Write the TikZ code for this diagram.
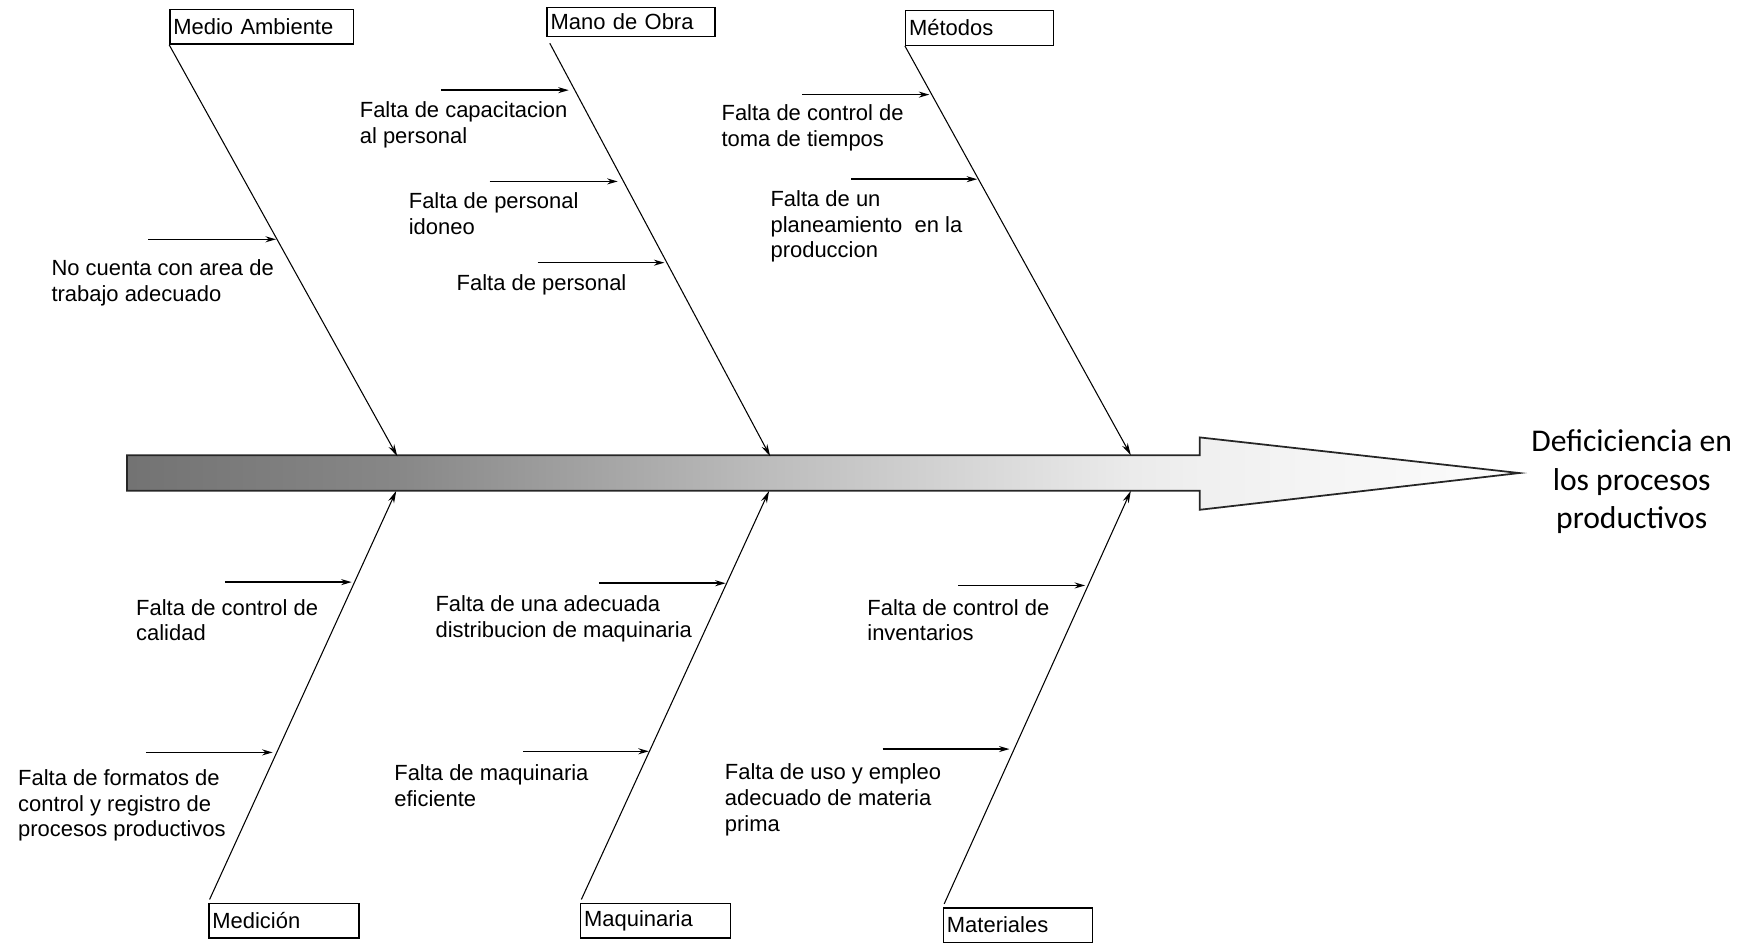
\documentclass[tikz,border=0pt]{standalone}
\usepackage{fontspec}
\setmainfont{Liberation Sans}
\newfontfamily\titlefont{Carlito}
\usetikzlibrary{arrows.meta}
\pgfdeclarehorizontalshading{espina}{100bp}{color(0bp)=(black!55); color(25bp)=(black!55);
  color(34.7bp)=(black!47); color(48.1bp)=(black!26); color(61bp)=(black!8);
  color(63.5bp)=(black!6); color(75bp)=(black!1); color(100bp)=(black!1)}
\begin{document}
\begin{tikzpicture}[x=0.02226cm,y=-0.02226cm,
    cat/.style={draw,line width=0.8pt,anchor=north west,inner xsep=0.07cm,inner ysep=0pt,
      minimum height=0.69cm,text width=#1,align=left,font=\fontsize{12.5}{14.6}\selectfont},
    lbl/.style={anchor=north west,inner sep=0pt,align=left,font=\fontsize{12.5}{14.6}\selectfont},
    bone/.style={line width=0.6pt,-{Stealth[length=7pt,width=3.6pt]}},
    cause/.style={line width=0.9pt,-{Stealth[length=6pt,width=3.4pt]}}]
  \useasboundingbox (0,0) rectangle (1575,851);

  % espina central
  \draw[line width=1pt,draw=black!85,shading=espina]
    (114,409) -- (1078,409) -- (1078,393) -- (1365,425) -- (1078,458)
    -- (1078,441) -- (114,441) -- cycle;
  \node[font=\titlefont\fontsize{18}{22}\selectfont,align=center] (efecto) at (1466,433)
    {Deficiciencia en\\los procesos\\productivos};

  % categorias
  \node[cat=3.53cm] (medio) at (152,8) {Medio Ambiente};
  \node[cat=3.22cm,minimum height=0.58cm] (mano) at (491,6) {Mano de Obra};
  \node[cat=2.82cm] (metodos) at (813,9) {Métodos};
  \node[cat=2.86cm] (medicion) at (187,811) {Medición};
  \node[cat=2.86cm] (maquinaria) at (521,811) {Maquinaria};
  \node[cat=2.84cm] (materiales) at (847,815) {Materiales};

  \coordinate (pmedio) at (357,410);
  \coordinate (pmano) at (692,410);
  \coordinate (pmetodos) at (1016,409);
  \coordinate (pmedicion) at (356,441);
  \coordinate (pmaquinaria) at (691,441);
  \coordinate (pmateriales) at (1016,441);

  \draw[bone] (medio.south west) -- (pmedio);
  \draw[bone,shorten <=4pt] (mano.south west) -- (pmano);
  \draw[bone] (metodos.south west) -- (pmetodos);
  \draw[bone,shorten <=2pt] (medicion.north west) -- (pmedicion);
  \draw[bone,shorten <=2pt] (maquinaria.north west) -- (pmaquinaria);
  \draw[bone,shorten <=2pt] (materiales.north west) -- (pmateriales);

  % causas
  \node[lbl] (c1) at (46,233) {No cuenta con area de\\trabajo adecuado};
  \node[lbl] (c2) at (323,91) {Falta de capacitacion\\al personal};
  \node[lbl] (c3) at (367,173) {Falta de personal\\idoneo};
  \node[lbl] (c4) at (410,246) {Falta de personal};
  \node[lbl] (c5) at (648,94) {Falta de control de\\toma de tiempos};
  \node[lbl] (c6) at (692,171) {Falta de un\\planeamiento~ en la\\produccion};
  \node[lbl] (c7) at (122,538) {Falta de control de\\calidad};
  \node[lbl] (c8) at (16,691) {Falta de formatos de\\control y registro de\\procesos productivos};
  \node[lbl] (c9) at (391,535) {Falta de una adecuada\\distribucion de maquinaria};
  \node[lbl] (c10) at (354,687) {Falta de maquinaria\\eficiente};
  \node[lbl] (c11) at (779,538) {Falta de control de\\inventarios};
  \node[lbl] (c12) at (651,686) {Falta de uso y empleo\\adecuado de materia\\prima};

  \foreach \n/\xa/\xb/\y in {1/133/248/215, 2/396/511/81, 3/440/555/163, 4/483/597/236,
      5/721/835/85, 6/765/878/161, 7/202/316/523, 8/131/245/676,
      9/538/652/524, 10/470/583/675, 11/861/975/526, 12/793/907/673}{
    \coordinate (s\n) at (\xa,\y);
    \coordinate (e\n) at (\xb,\y);
    \draw[cause] (s\n) -- (e\n);
  }
\end{tikzpicture}
\end{document}
